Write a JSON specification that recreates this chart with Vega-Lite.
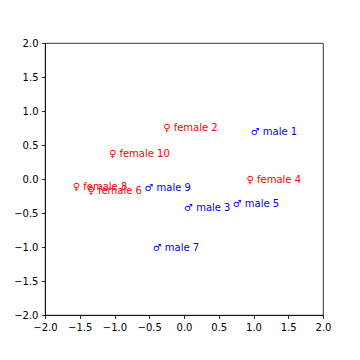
{
  "$schema": "https://vega.github.io/schema/vega-lite/v6.json",
  "width": 278,
  "height": 272,
  "autosize": {"type": "none"},
  "padding": {"left": 45, "top": 43, "right": 37, "bottom": 45},
  "background": "white",
  "config": {
    "view": {"stroke": "black", "strokeWidth": 0.8},
    "axis": {
      "grid": false,
      "domainColor": "black",
      "domainWidth": 0.8,
      "tickColor": "black",
      "tickWidth": 0.8,
      "tickSize": 3.5,
      "labelPadding": 3.5,
      "labelFont": "DejaVu Sans",
      "labelFontSize": 10,
      "labelColor": "black",
      "labelFlush": false,
      "labelOverlap": false
    }
  },
  "data": {
    "values": [
      {"x": 0.96, "y": 0.65, "label": "♂ male 1", "sex": "male"},
      {"x": -0.30, "y": 0.71, "label": "♀ female 2", "sex": "female"},
      {"x": 0.00, "y": -0.47, "label": "♂ male 3", "sex": "male"},
      {"x": 0.90, "y": -0.06, "label": "♀ female 4", "sex": "female"},
      {"x": 0.70, "y": -0.41, "label": "♂ male 5", "sex": "male"},
      {"x": -1.39, "y": -0.22, "label": "♀ female 6", "sex": "female"},
      {"x": -0.45, "y": -1.06, "label": "♂ male 7", "sex": "male"},
      {"x": -1.60, "y": -0.16, "label": "♀ female 8", "sex": "female"},
      {"x": -0.57, "y": -0.18, "label": "♂ male 9", "sex": "male"},
      {"x": -1.08, "y": 0.32, "label": "♀ female 10", "sex": "female"}
    ]
  },
  "mark": {"type": "text", "align": "left", "baseline": "alphabetic", "font": "DejaVu Sans", "fontSize": 10},
  "encoding": {
    "x": {"field": "x", "type": "quantitative", "title": null,
          "scale": {"domain": [-2, 2], "nice": false, "zero": false},
          "axis": {"values": [-2, -1.5, -1, -0.5, 0, 0.5, 1, 1.5, 2], "format": ".1f"}},
    "y": {"field": "y", "type": "quantitative", "title": null,
          "scale": {"domain": [-2, 2], "nice": false, "zero": false},
          "axis": {"values": [-2, -1.5, -1, -0.5, 0, 0.5, 1, 1.5, 2], "format": ".1f"}},
    "text": {"field": "label"},
    "color": {"field": "sex", "type": "nominal",
              "scale": {"domain": ["female", "male"], "range": ["#ff0000", "#0000ff"]},
              "legend": null}
  }
}
